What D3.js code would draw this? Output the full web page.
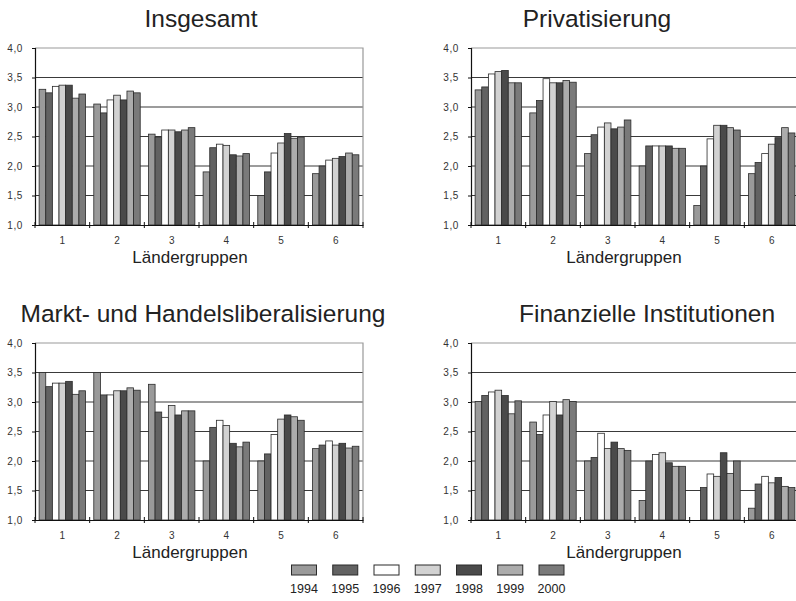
<!DOCTYPE html>
<html><head><meta charset="utf-8">
<script src="https://cdn.jsdelivr.net/npm/d3@7"></script>
<style>body{margin:0;background:#fff}svg{display:block;font-family:"Liberation Sans",Arial,sans-serif}</style>
</head><body>
<svg id="c" width="796" height="601"></svg>
<script>
const years = ["1994","1995","1996","1997","1998","1999","2000"];
const groups = ["1","2","3","4","5","6"];
const yTicks = [1.0,1.5,2.0,2.5,3.0,3.5,4.0];
const xTitle = "Ländergruppen";
const titles = ["Insgesamt","Privatisierung","Markt- und Handelsliberalisierung","Finanzielle Institutionen"];
const colors = ["#9a9a9a","#626262","#ffffff","#d2d2d2","#4a4a4a","#acacac","#7a7a7a"];
// values[group][year]
const insgesamt = [
  [3.30,3.24,3.35,3.37,3.37,3.15,3.22],
  [3.05,2.90,3.12,3.20,3.12,3.27,3.24],
  [2.54,2.49,2.61,2.61,2.58,2.61,2.65],
  [1.90,2.31,2.37,2.35,2.19,2.17,2.21],
  [1.50,1.90,2.22,2.39,2.55,2.47,2.49],
  [1.87,2.00,2.10,2.13,2.16,2.22,2.19]
];
const privatisierung = [
  [3.29,3.34,3.56,3.60,3.62,3.41,3.41],
  [2.90,3.11,3.48,3.41,3.41,3.45,3.42],
  [2.21,2.53,2.66,2.73,2.63,2.66,2.78],
  [2.00,2.34,2.34,2.34,2.34,2.30,2.30],
  [1.33,2.00,2.46,2.69,2.69,2.65,2.61],
  [1.87,2.06,2.21,2.37,2.48,2.65,2.56]
];
const markt = [
  [3.50,3.26,3.32,3.32,3.35,3.13,3.19],
  [3.50,3.12,3.12,3.19,3.19,3.24,3.20],
  [3.30,2.83,2.74,2.94,2.78,2.85,2.85],
  [2.00,2.57,2.69,2.60,2.30,2.24,2.32],
  [2.00,2.12,2.45,2.71,2.78,2.75,2.69],
  [2.21,2.27,2.34,2.27,2.30,2.22,2.25]
];
const finanz = [
  [3.01,3.11,3.17,3.20,3.11,2.80,3.02],
  [2.66,2.45,2.78,3.01,2.78,3.04,3.01],
  [2.00,2.06,2.47,2.21,2.32,2.21,2.18],
  [1.33,2.00,2.11,2.14,1.97,1.91,1.91],
  [null,1.55,1.78,1.74,2.14,1.79,2.00],
  [1.20,1.61,1.74,1.63,1.72,1.57,1.55]
];
const datasets = [insgesamt, privatisierung, markt, finanz];

const svg = d3.select("#c");
const panels = [
  {x0:35, y0:48, tx:201, ty:27, lx:190},
  {x0:471, y0:48, tx:597, ty:27, lx:624},
  {x0:35, y0:343, tx:203, ty:322, lx:190},
  {x0:471, y0:343, tx:647, ty:322, lx:624}
];
const PW = 328, PH = 177;

panels.forEach((p, i) => {
  const g = svg.append("g");
  const x = d3.scaleBand().domain(groups).range([p.x0, p.x0 + PW]);
  const xi = d3.scaleBand().domain(years).range([0, x.bandwidth()]).paddingInner(0).paddingOuter(0.62);
  const y = d3.scaleLinear().domain([1, 4]).range([p.y0 + PH, p.y0]);

  // gridlines
  g.selectAll("line.grid").data(yTicks.filter(v => v > 1 && v < 4)).join("line")
    .attr("x1", p.x0).attr("x2", p.x0 + PW)
    .attr("y1", d => y(d)).attr("y2", d => y(d))
    .attr("stroke", "#3a3a3a").attr("stroke-width", 1.2);
  // plot border top/right
  g.append("path")
    .attr("d", `M${p.x0},${y(4)}H${p.x0 + PW}V${y(1)}`)
    .attr("fill", "none").attr("stroke", "#999").attr("stroke-width", 1.2);

  // bars
  datasets[i].forEach((vals, gi) => {
    g.selectAll(null).data(vals.map((v, k) => ({v, k})).filter(d => d.v != null && d.v > 1)).join("rect")
      .attr("x", d => x(groups[gi]) + xi(years[d.k]))
      .attr("y", d => y(d.v))
      .attr("width", xi.bandwidth())
      .attr("height", d => y(1) - y(d.v))
      .attr("fill", d => colors[d.k])
      .attr("stroke", "#2a2a2a").attr("stroke-width", 0.8);
  });

  // y axis
  const ya = g.append("g").attr("transform", `translate(${p.x0},0)`)
    .call(d3.axisLeft(y).tickValues(yTicks).tickSize(3).tickPadding(9)
      .tickFormat(d => d3.format(".1f")(d).replace(".", ",")));
  ya.select(".domain").attr("stroke", "#111").attr("stroke-width", 1.2);
  ya.selectAll(".tick line").attr("stroke", "#111");
  ya.selectAll("text").attr("font-size", 10).attr("fill", "#333")
    .attr("font-family", "Liberation Sans, Arial, sans-serif").attr("letter-spacing", 0.6);

  // x axis
  const xa = g.append("g").attr("transform", `translate(0,${y(1)})`)
    .call(d3.axisBottom(x).tickSize(0).tickPadding(12));
  xa.select(".domain").attr("stroke", "#111").attr("stroke-width", 1.2);
  xa.selectAll("text").attr("font-size", 10).attr("fill", "#333")
    .attr("font-family", "Liberation Sans, Arial, sans-serif");
  const bounds = d3.range(0, groups.length + 1).map(k => p.x0 + k * x.step());
  xa.selectAll("line.sep").data(bounds).join("line")
    .attr("x1", d => d).attr("x2", d => d).attr("y1", -3).attr("y2", 3)
    .attr("stroke", "#111").attr("stroke-width", 1);

  // x title
  g.append("text").attr("x", p.lx).attr("y", y(1) + 38)
    .attr("text-anchor", "middle").attr("font-size", 17).attr("fill", "#222")
    .text(xTitle);
  // panel title
  g.append("text").attr("x", p.tx).attr("y", p.ty)
    .attr("text-anchor", "middle").attr("font-size", 24.5).attr("fill", "#222")
    .text(titles[i]);
});

// legend
const lg = svg.append("g");
const lx = d3.scalePoint().domain(years).range([304, 551.5]);
lg.selectAll("rect").data(years).join("rect")
  .attr("x", d => lx(d) - 12.5).attr("y", 565).attr("width", 25).attr("height", 10)
  .attr("fill", (d, k) => colors[k]).attr("stroke", "#2a2a2a").attr("stroke-width", 1);
lg.selectAll("text").data(years).join("text")
  .attr("x", d => lx(d)).attr("y", 593).attr("text-anchor", "middle")
  .attr("font-size", 12.5).attr("fill", "#222").text(d => d);
</script>
</body></html>
